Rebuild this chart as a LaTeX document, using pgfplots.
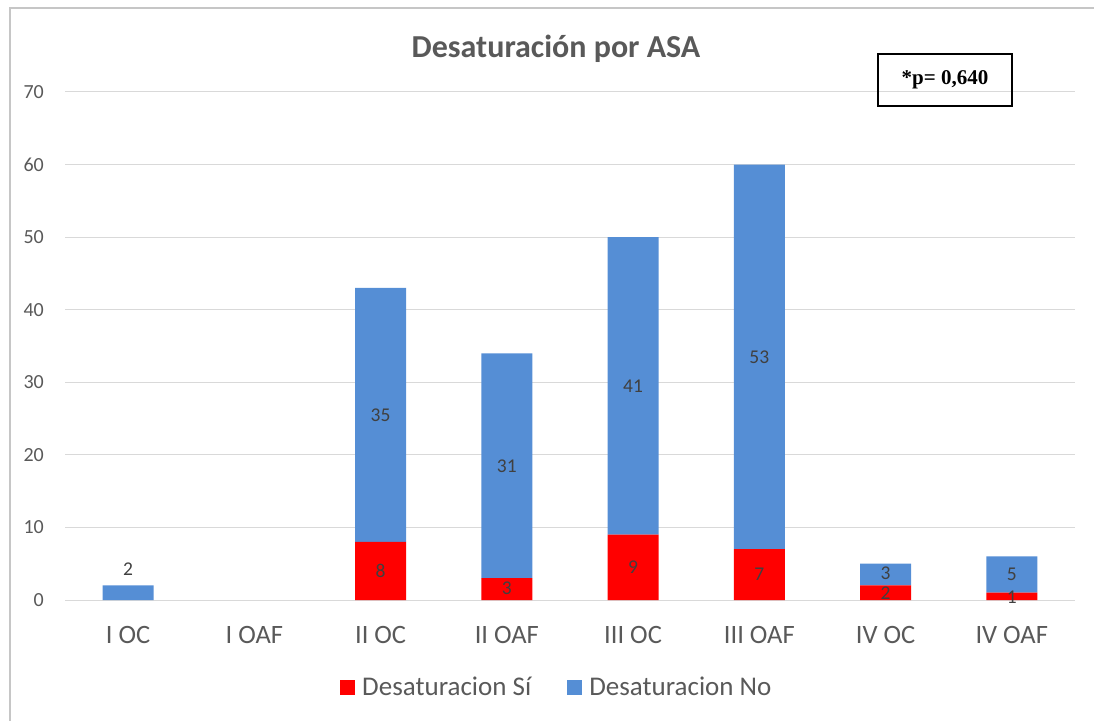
\documentclass[border=0pt]{standalone}
\usepackage{pgfplots}
\pgfplotsset{compat=1.18}
\usepackage{pgfplotstable}
\usepackage{fontspec}
\setmainfont{Carlito}
\newfontfamily\timesfont{Liberation Serif}
\definecolor{txtgray}{HTML}{595959}
\definecolor{lblgray}{HTML}{404040}
\definecolor{gridgray}{HTML}{D9D9D9}
\definecolor{framegray}{HTML}{C6C6C6}
\definecolor{xred}{HTML}{FF0000}
\definecolor{xblue}{HTML}{558ED5}

\pgfplotstableread{
x si no
0 0 2
1 0 0
2 8 35
3 3 31
4 9 41
5 7 53
6 2 3
7 1 5
}\datatable

% label positions (value shown, placed mid-segment)
\pgfplotstableread{
x y lab
0 4.2 2
2 4 8
2 25.5 35
3 1.6 3
3 18.5 31
4 4.5 9
4 29.5 41
5 3.5 7
5 33.5 53
6 0.9 2
6 3.7 3
7 0.4 1
7 3.5 5
}\labeltable

\begin{document}
\begin{tikzpicture}[x=1pt,y=1pt]
\useasboundingbox (0,0) rectangle (1094,720);
\draw[framegray, line width=1.5pt] (10,-5) -- (10,712) -- (1100,712);
\begin{axis}[
  at={(65pt,120pt)}, anchor=south west,
  scale only axis, width=1010pt, height=508pt,
  xmin=-0.5, xmax=7.5, ymin=0, ymax=70,
  ybar stacked, bar width=51pt,
  axis line style={draw=none},
  major tick length=0pt,
  ytick={0,10,...,70},
  ymajorgrids, grid style={gridgray, line width=1pt},
  xtick={0,...,7},
  xticklabels={I OC, I OAF, II OC, II OAF, III OC, III OAF, IV OC, IV OAF},
  xticklabel style={font=\fontsize{26.5}{31}\selectfont, text=txtgray, anchor=base, inner sep=0pt, yshift=-43pt},
  yticklabel style={font=\fontsize{20}{24}\selectfont, text=txtgray, anchor=base east, inner sep=0pt, xshift=-21pt, yshift=-6.5pt},
  /pgf/number format/assume math mode=true,
  clip=false,
  legend style={at={(0.487,-0.171)}, anchor=center, draw=none, fill=none,
    legend columns=2, font=\fontsize{27}{32}\selectfont, text=txtgray,
    /tikz/every even column/.append style={column sep=34pt}},
  legend image code/.code={\fill[#1] (0pt,-8pt) rectangle (15pt,7pt); \path (20pt,0pt);},
]
\addplot[fill=xred, draw=none] table[x=x, y=si] {\datatable};
\addlegendentry{Desaturacion Sí}
\addplot[fill=xblue, draw=none] table[x=x, y=no] {\datatable};
\addlegendentry{Desaturacion No}
\end{axis}
\begin{axis}[
  at={(65pt,120pt)}, anchor=south west,
  scale only axis, width=1010pt, height=508pt,
  xmin=-0.5, xmax=7.5, ymin=0, ymax=70,
  hide axis, clip=false,
]
\addplot[draw=none, mark=none, nodes near coords, point meta=explicit symbolic,
  nodes near coords style={anchor=center, font=\fontsize{19.5}{23}\selectfont, text=lblgray}]
  table[x=x, y=y, meta=lab] {\labeltable};
\end{axis}
\node[font=\bfseries\fontsize{32}{38}\selectfont, text=txtgray] at (556,671) {Desaturación por ASA};
\draw[black, line width=1.2pt] (878,666) rectangle (1012,614);
\node[font=\timesfont\bfseries\fontsize{21}{25}\selectfont] at (945,640) {*p= 0,640};
\end{tikzpicture}
\end{document}
